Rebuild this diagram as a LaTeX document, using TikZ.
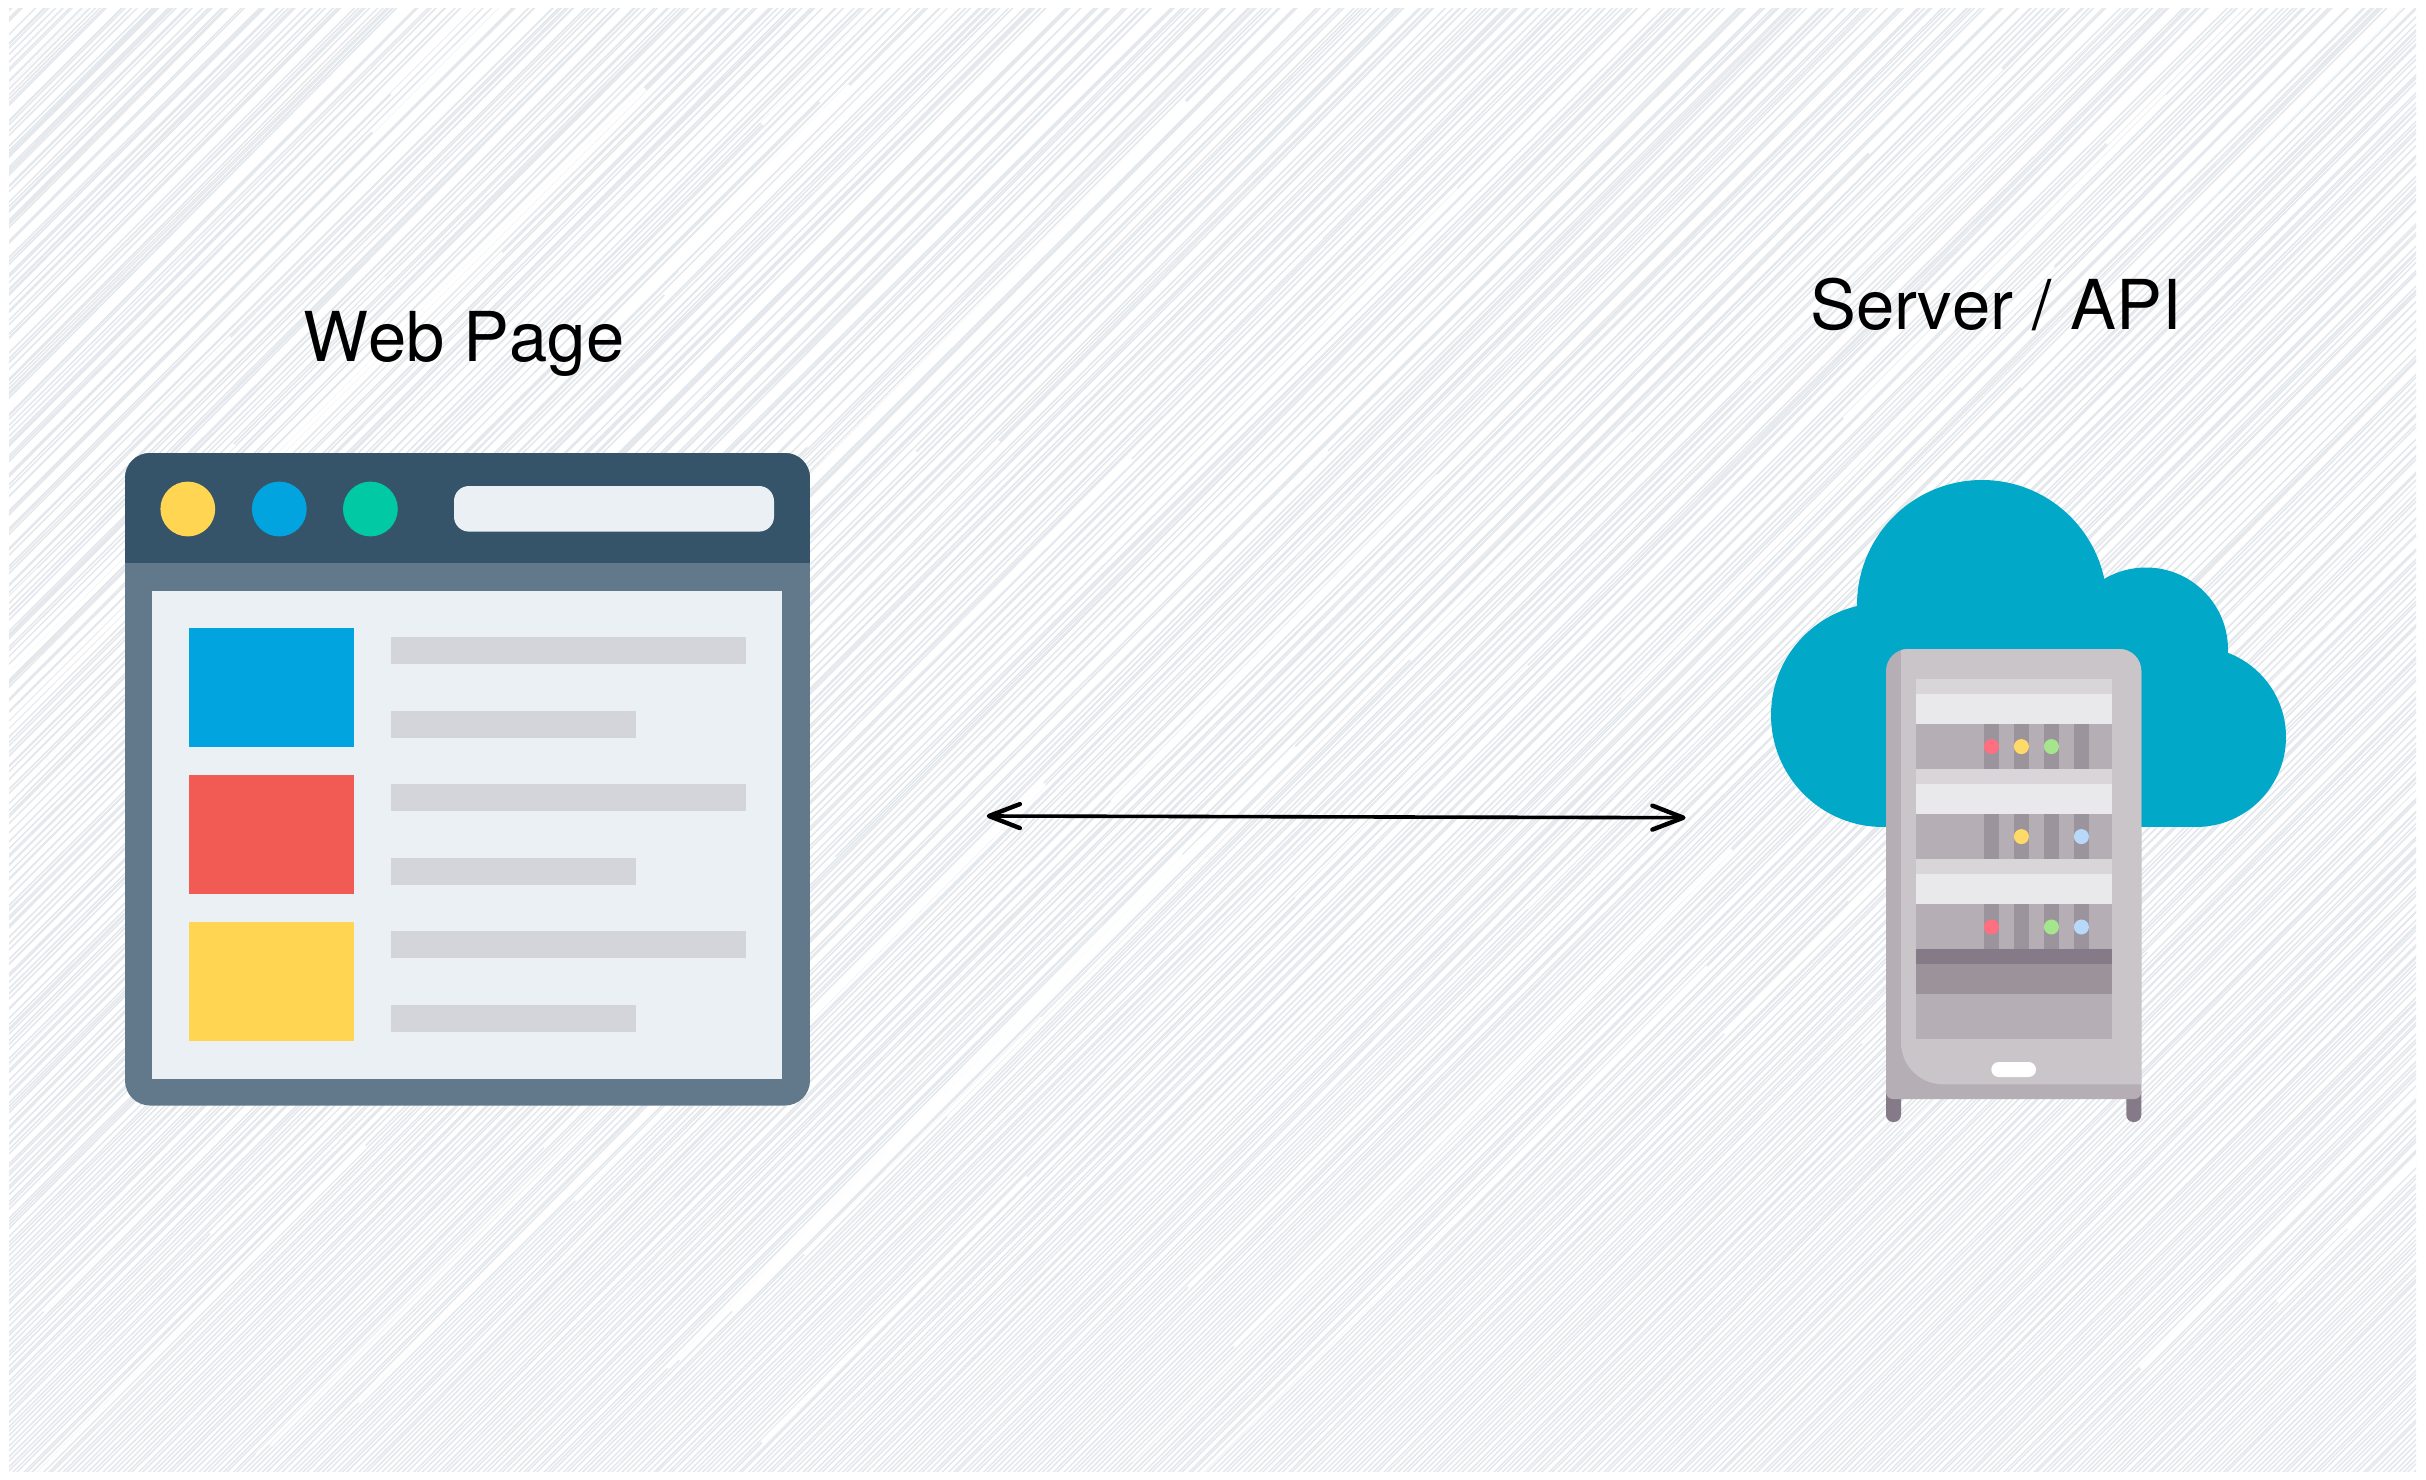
\documentclass[tikz,border=0pt]{standalone}
\usepackage{fontspec}
\setmainfont[Kerning=Off]{TeX Gyre Heros}
\usetikzlibrary{arrows.meta}
\definecolor{hatch}{HTML}{E4E7EB}
\definecolor{header}{HTML}{365469}
\definecolor{frame}{HTML}{62788B}
\definecolor{panel}{HTML}{EBF0F4}
\definecolor{wyellow}{HTML}{FFD552}
\definecolor{wblue}{HTML}{02A4DF}
\definecolor{wgreen}{HTML}{00C9A4}
\definecolor{wred}{HTML}{F25A54}
\definecolor{barc}{HTML}{D4D5DA}
\definecolor{cloudc}{HTML}{02A8C7}
\definecolor{sdark}{HTML}{B5AFB5}
\definecolor{slight}{HTML}{CAC5C8}
\definecolor{stop}{HTML}{D9D6D9}
\definecolor{sface}{HTML}{E9E8EB}
\definecolor{sstripe}{HTML}{9C949C}
\definecolor{sband}{HTML}{857A87}
\definecolor{smid}{HTML}{9B9399}
\definecolor{ledr}{HTML}{FF6F80}
\definecolor{ledy}{HTML}{FFDA66}
\definecolor{ledg}{HTML}{A5E58B}
\definecolor{ledb}{HTML}{B9D9FB}
\tikzset{
  label text/.style={font=\fontsize{68.8}{72}\selectfont, text=black, inner sep=0pt, anchor=base west},
  link/.style={line width=3.6pt, black, {Straight Barb[length=31pt,width=24pt,line width=4.4pt,round]}-{Straight Barb[length=31pt,width=24pt,line width=4.4pt,round]}},
}
\begin{document}
\begin{tikzpicture}[x=1pt,y=-1pt]
\useasboundingbox (0,0) rectangle (2426,1480);
\fill[white] (0,0) rectangle (2426,1480);
% background hatch
\begin{scope}
\clip (9,9) rectangle (2416,1471);
\pgfmathsetseed{4711}
\foreach \i in {1,...,790}{
  \pgfmathsetmacro{\cx}{-1490+\i*5.0+rand*1.2}
  \pgfmathsetmacro{\dx}{rand*10}
  \draw[hatch,line width=1.5pt] (\cx,1480) -- (\cx+1480+\dx,0);
}
% wider pale streaks and gaps of the sketchy fill
\foreach \i in {1,...,130}{
  \pgfmathsetmacro{\cx}{-1400+3800*rnd}
  \pgfmathsetmacro{\ya}{1480*rnd}
  \pgfmathsetmacro{\len}{200+500*rnd}
  \pgfmathsetmacro{\wd}{1.8+2.6*rnd}
  \draw[white,line width=\wd pt] (\cx,\ya) -- (\cx+\len,\ya-\len);
}
\end{scope}
% browser window
\begin{scope}
\clip[rounded corners=25pt] (125,453) rectangle (810,1105.5);
\fill[frame] (125,453) rectangle (810,1106);
\fill[header] (125,453) rectangle (810,563);
\end{scope}
\fill[panel] (152,591) rectangle (782,1078.5);
\fill[wyellow] (187.8,509) circle[radius=27.4];
\fill[wblue] (279.3,509) circle[radius=27.4];
\fill[wgreen] (370.4,509) circle[radius=27.4];
\fill[panel,rounded corners=15pt] (454,486) rectangle (774,531.6);
\fill[wblue] (189.2,627.6) rectangle (354.4,747);
\fill[wred] (189.2,774.6) rectangle (354.4,894.3);
\fill[wyellow] (189.2,922) rectangle (354.4,1041.3);
\foreach \o in {0,147,294}{
  \fill[barc] (391,636.6+\o) rectangle (745.6,663.9+\o);
  \fill[barc] (391,710.6+\o) rectangle (635.6,738+\o);
}
% cloud
\fill[cloudc] (1982,605) circle[radius=125];
\fill[cloudc] (2146,649.5) circle[radius=82];
\fill[cloudc] (1883,715) circle[radius=112];
\fill[cloudc] (2196,737) circle[radius=90];
\fill[cloudc] (1883,640) rectangle (2196,827);
% server legs
\fill[sband,rounded corners=7pt] (1886,1085) rectangle (1901,1122);
\fill[sband,rounded corners=7pt] (2126.3,1085) rectangle (2141.3,1122);
% server body
\fill[sdark] (1886,671) .. controls (1886,658.8) and (1895.8,649) .. (1908,649)
  -- (2119.3,649) .. controls (2131.5,649) and (2141.3,658.8) .. (2141.3,671)
  -- (2141.3,1092) .. controls (2141.3,1095.9) and (2138.2,1099) .. (2134.3,1099)
  -- (1893,1099) .. controls (1889.1,1099) and (1886,1095.9) .. (1886,1092) -- cycle;
\begin{scope}
\clip (1886,671) .. controls (1886,658.8) and (1895.8,649) .. (1908,649)
  -- (2119.3,649) .. controls (2131.5,649) and (2141.3,658.8) .. (2141.3,671)
  -- (2141.3,1099) -- (1886,1099) -- cycle;
\fill[slight] (1901,645) -- (2145,645) -- (2145,1084.3) -- (1943,1084.3)
  .. controls (1919.8,1084.3) and (1901,1065.5) .. (1901,1042.3) -- cycle;
\end{scope}
\foreach \t in {678.6,769,858.6}{
  \fill[stop] (1916,\t) rectangle (2111.5,\t+15.4);
  \fill[sface] (1916,\t+15.4) rectangle (2111.5,\t+45);
  \fill[sdark] (1916,\t+45) rectangle (2111.5,\t+90.7);
  \foreach \s in {1984,2014,2044,2074}{
    \fill[sstripe] (\s,\t+45) rectangle (\s+14.8,\t+90.7);
  }
}
\fill[sband] (1916,949.3) rectangle (2111.5,964.3);
\fill[smid] (1916,964.3) rectangle (2111.5,994.3);
\fill[sdark] (1916,994.3) rectangle (2111.5,1039.3);
\fill[white,rounded corners=7.4pt] (1991.3,1062) rectangle (2036,1077);
% LEDs
\fill[ledr] (1991.4,746.6) circle[radius=7.5];
\fill[ledy] (2021.4,746.6) circle[radius=7.5];
\fill[ledg] (2051.4,746.6) circle[radius=7.5];
\fill[ledy] (2021.4,836.6) circle[radius=7.5];
\fill[ledb] (2081.4,836.6) circle[radius=7.5];
\fill[ledr] (1991.4,927) circle[radius=7.5];
\fill[ledg] (2051.4,927) circle[radius=7.5];
\fill[ledb] (2081.4,927) circle[radius=7.5];
% labels
\node[label text] (webpage) at (303,361) {Web Page};
\node[label text] (serverapi) at (1810.5,329) {Server / API};
% connector
\coordinate (linkL) at (986.7,816);
\coordinate (linkR) at (1685.6,817.7);
\draw[link] (linkL) -- (linkR);
\end{tikzpicture}
\end{document}
